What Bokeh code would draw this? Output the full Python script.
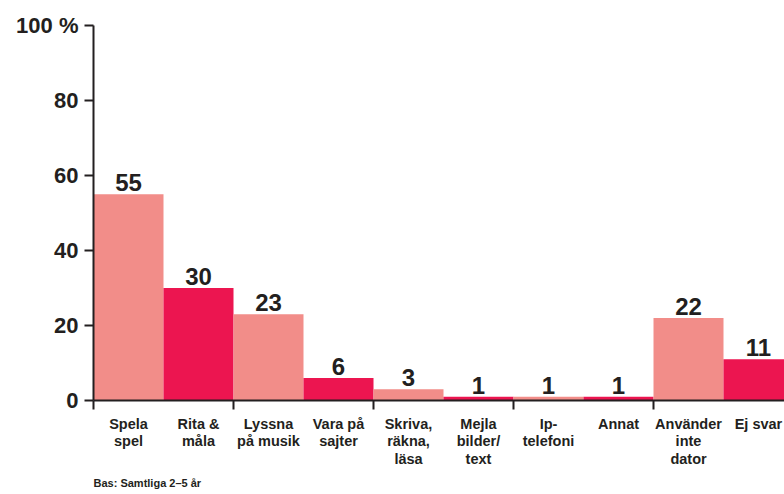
from bokeh.plotting import figure
from bokeh.models import Range1d, FixedTicker, Title, ColumnDataSource
from bokeh.core.properties import value
from bokeh.embed import file_html
from bokeh.resources import INLINE

categories = ["Spela\nspel", "Rita &\nmåla", "Lyssna\npå musik", "Vara på\nsajter",
              "Skriva,\nräkna,\nläsa", "Mejla\nbilder/\ntext", "Ip-\ntelefoni", "Annat",
              "Använder\ninte\ndator", "Ej svar"]
values = [55, 30, 23, 6, 3, 1, 1, 1, 22, 11]
value_labels = ["55", "30", "23", "6", "3", "1", "1", "1", "22", "11"]
y_ticks = [0, 20, 40, 60, 80, 100]
y_tick_labels = ["0", "20", "40", "60", "80", "100 %"]
footnote = "Bas: Samtliga 2–5 år"

LIGHT = "#F28D89"
DARK = "#EC1550"
INK = "#231F20"
FONT = "Liberation Sans"

n = len(categories)
centers = [i + 0.5 for i in range(n)]
colors = [LIGHT if i % 2 == 0 else DARK for i in range(n)]

src = ColumnDataSource(dict(x=centers, top=values, color=colors, lab=value_labels))

p = figure(width=784, height=494, output_backend="svg", toolbar_location=None,
           x_range=Range1d(0, 691 / 70), y_range=Range1d(0, 100),
           min_border_left=93, min_border_right=0, min_border_top=25, min_border_bottom=0)
p.outline_line_color = None
p.xgrid.grid_line_color = None
p.ygrid.grid_line_color = None
p.background_fill_color = "white"
p.border_fill_color = "white"

p.vbar(x="x", top="top", bottom=0, width=1.0, fill_color="color", line_color=None, source=src)

p.text(x="x", y="top", text="lab", source=src, text_align="center", text_baseline="bottom",
       y_offset=-3, text_font=value(FONT), text_font_style="bold", text_font_size="24px",
       text_color=INK)

# x axis
xa = p.xaxis[0]
xa.ticker = FixedTicker(ticks=centers, minor_ticks=[0, 2, 4, 6, 8])
xa.major_label_overrides = {c: lab for c, lab in zip(centers, categories)}
xa.major_tick_line_color = None
xa.minor_tick_line_color = INK
xa.minor_tick_line_width = 2
xa.minor_tick_in = 0
xa.minor_tick_out = 9
xa.axis_line_color = INK
xa.axis_line_width = 2
xa.major_label_standoff = 6
xa.major_label_text_font = FONT
xa.major_label_text_font_style = "bold"
xa.major_label_text_font_size = "14.5px"
xa.major_label_text_color = INK
xa.major_label_text_line_height = 1.1

# y axis
ya = p.yaxis[0]
ya.ticker = FixedTicker(ticks=y_ticks)
ya.major_label_overrides = {t: l for t, l in zip(y_ticks, y_tick_labels)}
ya.minor_tick_line_color = None
ya.major_tick_line_color = INK
ya.major_tick_line_width = 2
ya.major_tick_in = 0
ya.major_tick_out = 9
ya.axis_line_color = INK
ya.axis_line_width = 2
ya.major_label_standoff = 6
ya.major_label_text_font = FONT
ya.major_label_text_font_style = "bold"
ya.major_label_text_font_size = "22px"
ya.major_label_text_color = INK

p.add_layout(Title(text=footnote, align="left", text_font=FONT, text_font_style="bold",
                   text_font_size="11px", text_color=INK, standoff=11), "below")

open("out.html", "w").write(file_html(p, INLINE))
